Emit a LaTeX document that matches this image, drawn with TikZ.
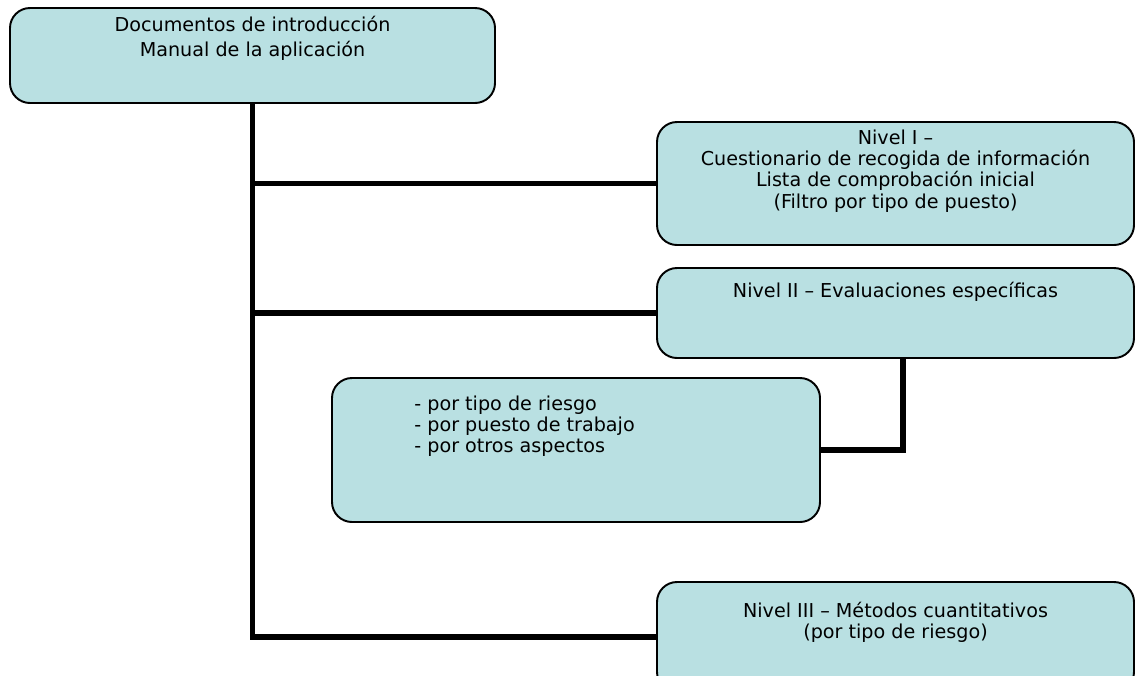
\documentclass[tikz,border=0pt]{standalone}
\usepackage{fontspec}
\setmainfont{DejaVu Sans}
\usetikzlibrary{positioning}
\definecolor{boxfill}{RGB}{185,224,226}

\begin{document}
\begin{tikzpicture}[
    box/.style={rectangle, rounded corners=0.4cm, draw, line width=1.1pt, fill=boxfill, inner sep=0pt},
    txt/.style={font=\fontsize{10.9}{12.1}\selectfont, inner sep=0pt, align=center},
    trunk/.style={line width=3.4pt}
]
\useasboundingbox (0,0) rectangle (22.72,-13.5);
\clip (0,0) rectangle (22.72,-13.5);

% Boxes
\node[box, minimum width=9.7cm, minimum height=1.9cm] (top) at (5.05,-1.11) {};
\node[box, minimum width=9.54cm, minimum height=2.46cm] (n1) at (17.91,-3.67) {};
\node[box, minimum width=9.54cm, minimum height=1.8cm] (n2) at (17.91,-6.26) {};
\node[box, minimum width=9.76cm, minimum height=2.88cm] (sub) at (11.52,-9.0) {};
\node[box, minimum width=9.54cm, minimum height=2.2cm] (n3) at (17.91,-12.74) {};

% Connectors
\draw[trunk] (top.south) |- (n3.west);
\draw[trunk] (top.south |- n1.west) -- (n1.west);
\draw[trunk] (top.south |- n2.west) -- (n2.west);
\draw[trunk] ([xshift=0.14cm]n2.south) |- (sub.east);

% Texts
\node[txt, font=\fontsize{10.9}{14.2}\selectfont, below=0.18cm of top.north] (t0) {Documentos de introducción\\Manual de la aplicación};
\node[txt, below=0.17cm of n1.north] (t1) {Nivel I –\\Cuestionario de recogida de información\\Lista de comprobación inicial\\(Filtro por tipo de puesto)};
\node[txt, below=0.29cm of n2.north] (t2) {Nivel II – Evaluaciones específicas};
\node[txt, align=left, below right=0.37cm and 1.66cm of sub.north west] (ts) {- por tipo de riesgo\\- por puesto de trabajo\\- por otros aspectos};
\node[txt, below=0.41cm of n3.north] (t3) {Nivel III – Métodos cuantitativos\\(por tipo de riesgo)};

\end{tikzpicture}
\end{document}
